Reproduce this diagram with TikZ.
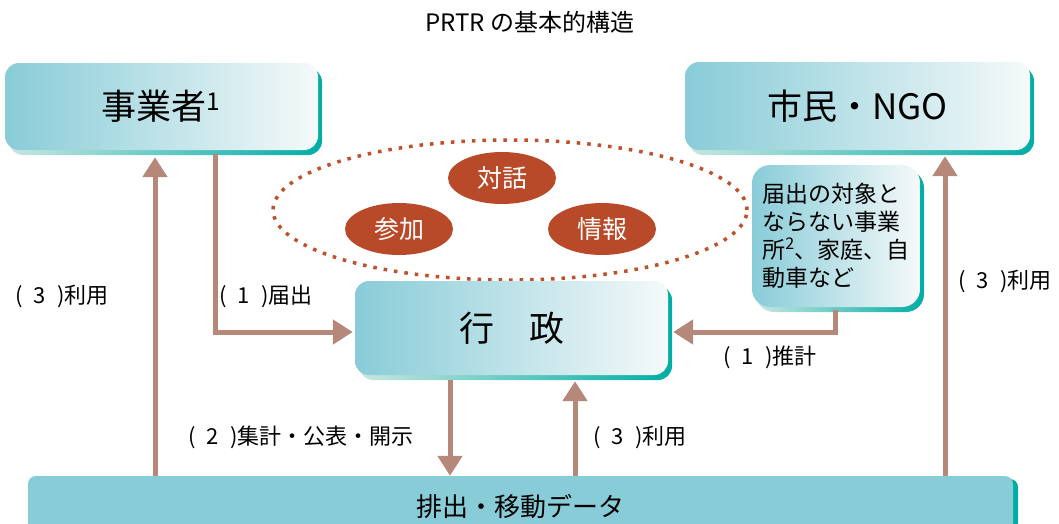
\documentclass[tikz,border=0pt]{standalone}
\usepackage{fontspec}
\setmainfont{Noto Sans CJK JP}
\usepackage{xcolor}
\usepackage{tikz}
\usetikzlibrary{shapes.geometric, arrows.meta, positioning, shadows}

\definecolor{boxL}{HTML}{88CCD8}
\definecolor{boxR}{HTML}{F5F9F9}
\definecolor{shadeL}{HTML}{C8E6E0}
\definecolor{shadeR}{HTML}{00ADA5}
\definecolor{ovalred}{HTML}{B84A2A}
\definecolor{dotred}{HTML}{C0502A}
\definecolor{flowbrown}{HTML}{B5887A}

\begin{document}
\begin{tikzpicture}[
    x=1pt, y=1pt,
    box/.style={rectangle, rounded corners=14pt, inner sep=0pt, left color=boxL, right color=boxR,
        general shadow={shadow xshift=4pt, shadow yshift=-5pt, left color=shadeL, right color=shadeR},
        font=\fontsize{35}{40}\selectfont, align=center},
    bar/.style={rectangle, rounded corners=8pt, inner sep=0pt, fill=boxL,
        general shadow={shadow xshift=5pt, shadow yshift=-3pt, fill=shadeR},
        font=\fontsize{26}{30}\selectfont},
    oval/.style={ellipse, fill=ovalred, text=white, inner sep=0pt, minimum width=108pt, minimum height=52pt,
        font=\fontsize{25}{28}\selectfont},
    forum/.style={ellipse, draw=dotred, line width=3.5pt, dash pattern=on 3.5pt off 7pt, inner sep=0pt},
    flow/.style={draw=flowbrown, line width=5pt, -{Triangle[width=24pt, length=20pt]}},
    lbl/.style={font=\fontsize{22}{26}\selectfont}
]

\useasboundingbox (0,0) rectangle (1059,-523);
\clip (0,0) rectangle (1059,-523);

\node[font=\fontsize{24}{28}\selectfont] (title) at (530,-22) {PRTR の基本的構造};

\node[forum, minimum width=474pt, minimum height=140pt] (forum) at (510,-210) {};
\node[oval] (taiwa) at (502,-178) {対話};
\node[oval] (sanka) at (399,-229) {参加};
\node[oval] (joho) at (602,-229) {情報};

\node[box, minimum width=313pt, minimum height=87pt] (jigyo) at (161.5,-106.5) {事業者\textsuperscript{1}};
\node[box, minimum width=345pt, minimum height=88pt] (shimin) at (857.5,-106) {市民・NGO};
\node[box, minimum width=313pt, minimum height=94pt] (gyosei) at (511.5,-328) {行　政};
\node[box, rounded corners=18pt, minimum width=168pt, minimum height=142pt, align=left,
    font=\fontsize{23}{28}\selectfont] (other) at (836,-236) {届出の対象と\\ならない事業\\所\textsuperscript{2}、家庭、自\\動車など};
\node[bar, minimum width=985pt, minimum height=64pt] (data) at (520.5,-508) {\raisebox{6pt}{排出・移動データ}};

\draw[flow] ([xshift=-6.5pt]jigyo.south |- data.north) -- ([xshift=-6.5pt, yshift=-7pt]jigyo.south);
\draw[flow] ([xshift=53.5pt, yshift=-4pt]jigyo.south) |- ([xshift=-2pt, yshift=-4pt]gyosei.west);
\draw[flow] ([xshift=-61.5pt, yshift=-5pt]gyosei.south) -- ([xshift=-61.5pt]gyosei.south |- data.north);
\draw[flow] ([xshift=63.5pt]gyosei.south |- data.north) -- ([xshift=63.5pt, yshift=-6pt]gyosei.south);
\draw[flow] ([xshift=-1pt, yshift=-3pt]other.south) |- ([xshift=5pt, yshift=-4pt]gyosei.east);
\draw[flow] ([xshift=87.5pt]shimin.south |- data.north) -- ([xshift=87.5pt, yshift=-6pt]shimin.south);

\node[lbl] (use-l) at (62,-296) {(\enspace3\enspace)利用};
\node[lbl] (notify) at (266,-296) {(\enspace1\enspace)届出};
\node[lbl] (publish) at (301,-437) {(\enspace2\enspace)集計・公表・開示};
\node[lbl] (use-c) at (640,-437) {(\enspace3\enspace)利用};
\node[lbl] (estimate) at (770,-357) {(\enspace1\enspace)推計};
\node[lbl] (use-r) at (1005,-281) {(\enspace3\enspace)利用};

\end{tikzpicture}
\end{document}
